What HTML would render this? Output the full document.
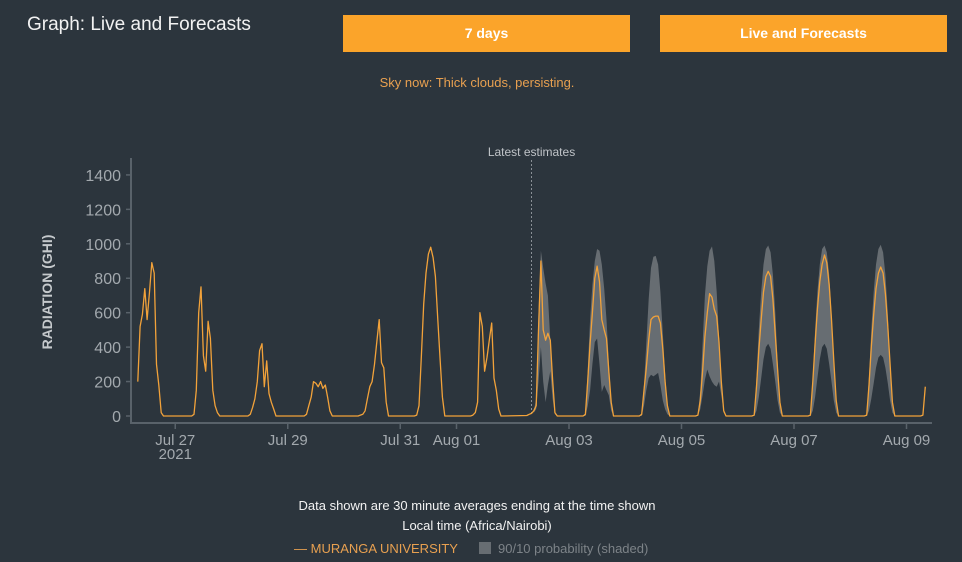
<!DOCTYPE html>
<html><head><meta charset="utf-8">
<style>
body{margin:0;width:962px;height:562px;background:#2c353d;font-family:"Liberation Sans",sans-serif;overflow:hidden;position:relative}
.title{position:absolute;left:27px;top:14px;color:#f2f2f2;font-size:19px}
.btn{position:absolute;top:15px;height:37px;width:287px;background:#fba42a;color:#fff;font-weight:bold;font-size:14px;line-height:37px;text-align:center}
.sky{position:absolute;left:0;width:954px;top:75px;text-align:center;color:#e8a050;font-size:13px}
svg{position:absolute;left:0;top:0}
</style></head><body>
<div class="title">Graph: Live and Forecasts</div>
<div class="btn" style="left:343px">7 days</div>
<div class="btn" style="left:660px">Live and Forecasts</div>
<div class="sky">Sky now: Thick clouds, persisting.</div>
<svg id="chart" width="962" height="562"></svg>
<script>
// hours 6..19 for each day, day 0 = Jul 26
const dayLabels=["Jul 26","Jul 27","Jul 28","Jul 29","Jul 30","Jul 31","Aug 01","Aug 02","Aug 03","Aug 04","Aug 05","Aug 06","Aug 07","Aug 08","Aug 09"];
const ghi=[
[null,null,200,520,590,740,560,720,890,830,300,180,20,0],
[0,0,10,150,600,750,350,260,550,450,150,60,20,0],
[0,0,10,50,100,200,380,420,170,320,130,80,40,0],
[0,0,10,60,110,200,190,170,200,160,180,110,30,0],
[0,5,10,30,100,170,200,300,430,560,310,280,80,0],
[0,5,60,340,650,830,940,980,920,810,560,330,110,0],
[0,5,20,80,600,520,260,340,440,540,220,150,40,0],
[3,10,15,30,60,500,900,500,440,480,440,210,20,0],
[0,10,210,420,600,800,870,780,560,500,450,260,80,0],
[0,10,150,280,440,560,575,580,580,540,390,200,60,0],
[0,5,90,260,460,600,710,690,620,580,430,200,30,0],
[0,5,170,380,560,720,810,840,810,680,470,270,80,0],
[0,5,200,420,620,780,880,935,890,760,560,320,90,0],
[0,5,180,400,590,740,830,865,830,710,520,300,80,0],
[0,5,170,null,null,null,null,null,null,null,null,null,null,null]];
const bandStartDay=7;
const p90=[
[null,null,null,30,100,600,960,860,770,700,440,200,20,0],
[0,10,280,560,760,900,970,960,880,740,560,320,90,0],
[0,10,180,420,680,860,925,930,880,720,480,250,60,0],
[0,10,150,420,700,870,960,985,900,720,460,200,30,0],
[0,10,230,500,720,880,970,990,950,820,600,320,90,0],
[0,10,230,500,720,880,970,990,950,820,600,320,90,0],
[0,10,230,500,720,880,970,995,950,820,600,320,90,0]];
const p10=[
[null,null,null,20,40,200,400,200,80,180,260,100,10,0],
[0,0,60,150,300,430,450,300,140,180,150,120,30,0],
[0,0,60,150,220,240,230,240,250,180,90,40,10,0],
[0,0,40,120,210,270,230,200,180,170,200,120,20,0],
[0,0,30,110,220,330,400,420,390,300,200,90,20,0],
[0,0,30,110,220,330,400,420,390,300,200,90,20,0],
[0,0,30,100,190,280,340,355,340,280,190,90,20,0]];
const yTicks=[0,200,400,600,800,1000,1200,1400];
const xTickDays=[1,3,5,6,8,10,12,14];
const xTickLabels=["Jul 27","Jul 29","Jul 31","Aug 01","Aug 03","Aug 05","Aug 07","Aug 09"];
const latestHour=7*24+8;

const NS="http://www.w3.org/2000/svg";
const svg=document.getElementById('chart');
const X=t=>119+t/24*56.25;
const Y=v=>416-v*0.1722;
function mk(tag,attrs,parent){const e=document.createElementNS(NS,tag);for(const k in attrs)e.setAttribute(k,attrs[k]);(parent||svg).appendChild(e);return e;}
function series(arr,startDay){const pts=[];arr.forEach((d,di)=>d.forEach((v,i)=>{if(v!==null)pts.push([(startDay+di)*24+6+i,v]);}));return pts;}

// band
const up=series(p90,bandStartDay),lo=series(p10,bandStartDay);
const poly=up.map(p=>X(p[0]).toFixed(1)+","+Y(p[1]).toFixed(1)).concat(lo.slice().reverse().map(p=>X(p[0]).toFixed(1)+","+Y(p[1]).toFixed(1)));
const band=mk('polygon',{points:poly.join(" "),fill:"#676d72"});



// axes
const ax=mk('path',{d:"M131 158 V423 H932",stroke:"#59626a","stroke-width":2,fill:"none"});


yTicks.forEach(v=>{
 mk('line',{x1:126,x2:131,y1:Y(v),y2:Y(v),stroke:"#59626a","stroke-width":1.5});
 const t=mk('text',{x:121,y:Y(v)+6,"text-anchor":"end",fill:"#a3a9ae","font-size":16});
 t.textContent=v;
 
 
});
xTickDays.forEach((d,i)=>{
 const x=X(d*24);
 mk('line',{x1:x,x2:x,y1:423,y2:429,stroke:"#59626a","stroke-width":1.5});
 const t=mk('text',{x:x,y:445,"text-anchor":"middle",fill:"#a3a9ae","font-size":15});
 t.textContent=xTickLabels[i];
 
 
});
const yr=mk('text',{x:X(24),y:459,"text-anchor":"middle",fill:"#a3a9ae","font-size":15});
yr.textContent="2021";


const yl=mk('text',{x:0,y:0,transform:"translate(52,292) rotate(-90)","text-anchor":"middle",fill:"#c5c9cc","font-size":14,"font-weight":"bold"});
yl.textContent="RADIATION (GHI)";



// latest estimates
const lx=X(latestHour);
const ll=mk('line',{x1:lx,x2:lx,y1:160,y2:416,stroke:"#8a9096","stroke-width":1,"stroke-dasharray":"2,2"});


const lt=mk('text',{x:lx,y:156,"text-anchor":"middle",fill:"#c0c4c8","font-size":12});
lt.textContent="Latest estimates";



// line
const pts=series(ghi,0);
const line=mk('polyline',{points:pts.map(p=>X(p[0]).toFixed(1)+","+Y(p[1]).toFixed(1)).join(" "),fill:"none",stroke:"#f2a23a","stroke-width":1.3,"stroke-linejoin":"round"});



// footer
const f1=mk('text',{x:477,y:510,"text-anchor":"middle",fill:"#f2f2f2","font-size":13});
f1.textContent="Data shown are 30 minute averages ending at the time shown";


const f2=mk('text',{x:477,y:530,"text-anchor":"middle",fill:"#f2f2f2","font-size":13});
f2.textContent="Local time (Africa/Nairobi)";


const lg1=mk('text',{x:294,y:553,fill:"#e8a050","font-size":13});
lg1.textContent="— MURANGA UNIVERSITY";


const sw=mk('rect',{x:479,y:542,width:12,height:12,fill:"#676d72"});


const lg2=mk('text',{x:498,y:553,fill:"#7d8388","font-size":13});
lg2.textContent="90/10 probability (shaded)";


</script>
</body></html>
